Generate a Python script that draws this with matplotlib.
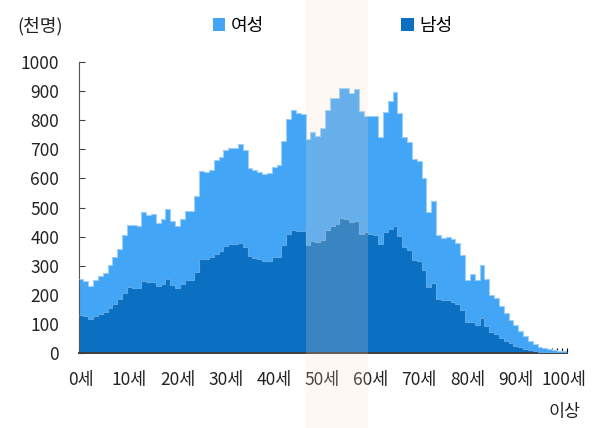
import numpy as np
import matplotlib
matplotlib.use("Agg")
import matplotlib.pyplot as plt
from matplotlib.patches import Patch, Rectangle
from matplotlib.transforms import blended_transform_factory

plt.rcParams['font.family'] = ['Noto Sans CJK KR', 'DejaVu Sans']

# 연령별 인구 (천명), 0세 ~ 100세 이상
total = [256, 246, 232, 252, 266, 276, 302, 330, 358, 404,
         441, 441, 438, 486, 476, 479, 446, 462, 495, 453,
         435, 461, 488, 487, 539, 624, 622, 629, 662, 674,
         699, 704, 703, 717, 698, 636, 630, 623, 616, 620,
         640, 646, 729, 804, 834, 824, 823, 735, 760, 747,
         772, 834, 876, 876, 910, 910, 893, 909, 832, 815,
         815, 815, 744, 830, 866, 897, 824, 743, 724, 667,
         659, 600, 486, 521, 407, 396, 400, 393, 378, 337,
         252, 270, 250, 302, 253, 199, 188, 162, 136, 115,
         96, 76, 58, 43, 32, 22, 16, 13, 9, 7,
         7]
male = [131, 127, 118, 128, 134, 141, 155, 170, 184, 207,
        226, 224, 225, 248, 245, 244, 231, 237, 255, 233,
        225, 238, 250, 250, 279, 323, 324, 329, 341, 352,
        367, 374, 373, 378, 366, 332, 328, 322, 316, 316,
        330, 330, 371, 410, 422, 419, 419, 372, 385, 381,
        390, 422, 438, 444, 463, 459, 449, 453, 410, 415,
        408, 407, 374, 415, 427, 436, 401, 364, 355, 321,
        315, 285, 227, 242, 187, 182, 181, 176, 168, 148,
        107, 108, 97, 121, 94, 72, 66, 52, 42, 34,
        25, 19, 14, 10, 7, 5, 4, 3, 2, 2,
        2]
tick_ages = [0, 10, 20, 30, 40, 50, 60, 70, 80, 90, 100]
tick_labels = ['0세', '10세', '20세', '30세', '40세', '50세', '60세',
               '70세', '80세', '90세', '100세\n이상']
band_start, band_end = 47, 60

light = '#42A5F5'
dark = '#0B6FC2'

total = np.array(total)
male = np.array(male)
edges = np.arange(len(total) + 1)

fig = plt.figure(figsize=(6.05, 4.28), dpi=100)
ax = fig.add_axes([0.1298, 0.1752, 0.8066, 0.6798])

ax.stairs(male, edges, fill=True, color=dark, zorder=2)
ax.stairs(total, edges, baseline=male, fill=True, color=light, zorder=2)
ax.stairs(male, edges, baseline=None, color='#5DA8E6', lw=0.8, zorder=3)
ax.stairs(total, edges, baseline=None, color='#9ED0F7', lw=0.8, zorder=3)

ax.set_xlim(0, len(total))
ax.set_ylim(0, 1000)
ax.set_yticks(np.arange(0, 1001, 100))
ax.set_xticks(np.array(tick_ages) + 0.5)
ax.set_xticklabels(tick_labels, linespacing=2.0)
ax.set_xticks(edges, minor=True)

ax.tick_params(axis='x', which='major', length=0, pad=13, labelsize=12.5, colors='#222222')
ax.tick_params(axis='x', which='minor', direction='in', length=3.8, width=0.8, color='black')
ax.tick_params(axis='y', direction='in', length=4.5, width=0.8, color='#444444',
               pad=14, labelsize=12.5, labelcolor='#222222')

for s in ['top', 'right']:
    ax.spines[s].set_visible(False)
ax.spines['left'].set_color('#555555')
ax.spines['left'].set_linewidth(0.8)
ax.spines['bottom'].set_color('#404040')
ax.spines['bottom'].set_linewidth(1.4)

trans = blended_transform_factory(ax.transData, fig.transFigure)
ax.add_patch(Rectangle((band_start, 0), band_end - band_start, 1, transform=trans,
                       facecolor='#F8DCC4', alpha=0.2, edgecolor='none',
                       clip_on=False, zorder=10))

handles = [Patch(facecolor=light, label='여성'), Patch(facecolor=dark, label='남성')]
fig.legend(handles=handles, loc='center', bbox_to_anchor=(0.55, 0.939), ncol=2,
           frameon=False, fontsize=13, handlelength=0.7, handleheight=0.7,
           handletextpad=0.3, columnspacing=7.6)
fig.text(0.028, 0.94, '(천명)', fontsize=13, va='center', ha='left', color='#222222')

fig.savefig('out.png', dpi=100)
